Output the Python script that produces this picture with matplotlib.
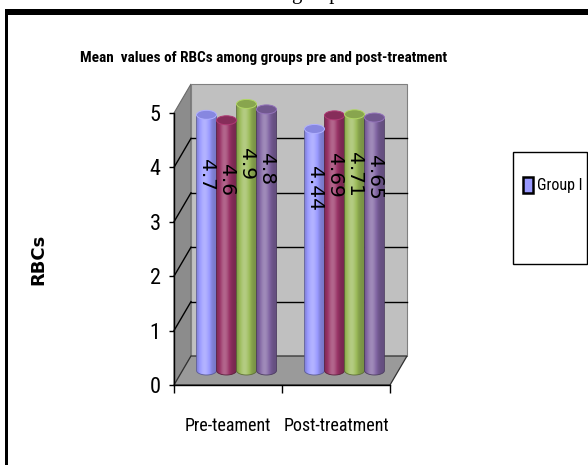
import numpy as np
import matplotlib
matplotlib.use("Agg")
import matplotlib.pyplot as plt
from matplotlib.patches import Polygon, Rectangle, Ellipse, Patch
from matplotlib import font_manager
from matplotlib.colors import to_rgb

# ---- data -------------------------------------------------------------
phases = ["Pre-teament", "Post-treatment"]
groups = ["Group I", "Group II", "Group III", "Group IV"]
group_colors = ["#9999FF", "#993366", "#9BBB59", "#8064A2"]
rbc_pre = [4.7, 4.6, 4.9, 4.8]
rbc_post = [4.44, 4.69, 4.71, 4.65]
y_ticks = [0, 1, 2, 3, 4, 5]
chart_title = "Mean  values of RBCs among groups pre and post-treatment"
y_title = "RBCs"
caption_fragment = "groups"

values = [rbc_pre, rbc_post]


def pick_font(names):
    available = {f.name for f in font_manager.fontManager.ttflist}
    for n in names:
        if n in available:
            return n
    return "DejaVu Sans"


narrow = pick_font(["Liberation Sans Narrow", "Roboto Condensed", "Liberation Sans"])

W, H = 588, 465
fig = plt.figure(figsize=(W / 100, H / 100), dpi=100)

# ---- axes: front plane of the 3-D box ---------------------------------
x0_px, x1_px = 174, 390
y0_px, y5_px = 385, 113
xlim = (-0.2, 2.4)
ylim = (-0.5, 5.7)
ppx = (x1_px - x0_px) / 2.0
ppy = (y0_px - y5_px) / 5.0
left = x0_px + xlim[0] * ppx
right = x0_px + xlim[1] * ppx
bottom = y0_px - ylim[0] * ppy
top = y0_px - ylim[1] * ppy
ax = fig.add_axes([left / W, 1 - bottom / H, (right - left) / W, (bottom - top) / H])
ax.set_xlim(xlim)
ax.set_ylim(ylim)
ax.patch.set_visible(False)

# depth of the box (oblique projection) in data units
ddx = 17 / ppx
ddy = 29 / ppy
ymax = y_ticks[-1]
nx = len(phases)

# side wall, back wall, floor
ax.add_patch(Polygon([(0, 0), (0, ymax), (ddx, ymax + ddy), (ddx, ddy)],
                     closed=True, fc="#8C8C8C", ec="#6A6A6A", lw=0.8, zorder=1))
ax.add_patch(Rectangle((ddx, ddy), nx, ymax, fc="#C0C0C0", ec="#808080",
                       lw=0.8, zorder=1))
ax.add_patch(Polygon([(0, 0), (nx, 0), (nx + ddx, ddy), (ddx, ddy)],
                     closed=True, fc="#9A9A9A", ec="#303030", lw=0.9, zorder=2))

# gridlines on back and side walls
for yv in y_ticks[1:-1]:
    ax.plot([ddx, nx + ddx], [yv + ddy, yv + ddy], color="black", lw=1.0, zorder=2)
    ax.plot([0, ddx], [yv, yv + ddy], color="black", lw=1.0, zorder=2)

# ---- cylinders ----------------------------------------------------------
bw = 20 / ppx           # cylinder diameter
eh = 9 / ppy            # ellipse height of cylinder caps
base = 0.5 * ddy        # cylinders stand at mid depth
shift = 0.5 * ddx


def shade(color, n=64):
    c = np.array(to_rgb(color))
    t = np.linspace(0, 1, n)
    f = 0.78 + 0.5 * np.exp(-((t - 0.38) / 0.28) ** 2)
    out = np.empty((1, n, 3))
    for i, fv in enumerate(f):
        if fv <= 1:
            out[0, i] = c * fv
        else:
            out[0, i] = c + (1 - c) * (fv - 1) * 0.9
    return np.clip(out, 0, 1)


theta = np.linspace(np.pi, 2 * np.pi, 40)
for i, phase_vals in enumerate(values):
    for k, v in enumerate(phase_vals):
        cx = i + 0.5 + (k - 1.5) * bw + shift
        xl, xr = cx - bw / 2, cx + bw / 2
        ytop = base + v
        pts = [(xl, ytop), (xl, base)]
        pts += [(cx + bw / 2 * np.cos(a), base + eh / 2 * np.sin(a)) for a in theta]
        pts += [(xr, ytop)]
        body = Polygon(pts, closed=True, fc="none",
                       ec=np.array(to_rgb(group_colors[k])) * 0.6, lw=0.6, zorder=4)
        ax.add_patch(body)
        im = ax.imshow(shade(group_colors[k]), extent=(xl, xr, base - eh / 2, ytop),
                       aspect="auto", interpolation="bilinear", zorder=3)
        im.set_clip_path(body)
        topc = np.array(to_rgb(group_colors[k]))
        ax.add_patch(Ellipse((cx, ytop), bw, eh, fc=topc * 0.88,
                             ec=np.clip(topc * 1.15, 0, 1), lw=0.7, zorder=5))
        ax.text(cx, ytop - 1.1, f"{v:g}", rotation=-90, ha="center", va="center",
                fontsize=14.5, family="DejaVu Sans", color="black", zorder=6)

# ---- axes lines, ticks, labels -------------------------------------------
for s in ("top", "right"):
    ax.spines[s].set_visible(False)
ax.spines["left"].set_position(("data", 0))
ax.spines["left"].set_bounds(0, ymax)
ax.spines["bottom"].set_position(("data", 0))
ax.spines["bottom"].set_bounds(0, nx)
for s in ("left", "bottom"):
    ax.spines[s].set_linewidth(1.0)
    ax.spines[s].set_zorder(7)

ax.set_yticks(y_ticks)
ax.tick_params(axis="y", length=3.6, width=1, pad=6, labelsize=16, direction="out")
for lbl in ax.get_yticklabels():
    lbl.set_fontfamily(narrow)

ax.set_xticks(range(nx + 1))
ax.set_xticklabels([])
ax.set_xticks([i + 0.5 for i in range(nx)], minor=True)
ax.set_xticklabels(phases, minor=True)
ax.tick_params(axis="x", which="major", length=6, width=1, direction="out")
ax.tick_params(axis="x", which="minor", length=0, pad=23, labelsize=13)
for lbl in ax.get_xticklabels(minor=True):
    lbl.set_fontfamily(narrow)

# ---- titles ----------------------------------------------------------------
fig.text(264 / W, 1 - 62 / H, chart_title, ha="center", va="baseline",
         fontsize=11, fontweight="bold", family=narrow)
fig.text(38 / W, 1 - 259 / H, y_title, rotation=90, ha="center", va="center",
         fontsize=13, fontweight="bold", family="DejaVu Sans")
fig.text(291 / W, 1 + 1.5 / H, caption_fragment, ha="left", va="baseline",
         fontsize=15, family="Liberation Serif")

# ---- legend --------------------------------------------------------------
fig.add_artist(Rectangle((513 / W, 1 - 264 / H), (587 - 513) / W, (264 - 152) / H,
                         transform=fig.transFigure, fill=False, ec="black", lw=1.0))
fig.legend(handles=[Patch(fc=group_colors[0], ec="black", lw=1.8)],
           labels=[groups[0]], loc="center left",
           bbox_to_anchor=(523 / W, 1 - 185 / H), frameon=False,
           handlelength=0.6, handleheight=1.25, handletextpad=0.25,
           borderpad=0, borderaxespad=0, prop={"family": narrow, "size": 11.5})

# ---- page frame -----------------------------------------------------------
fig.add_artist(Rectangle((5 / W, 1 - 15 / H), (W - 5) / W, 6 / H,
                         transform=fig.transFigure, fc="black", ec="none"))
fig.add_artist(Rectangle((5 / W, 0), 3 / W, (H - 9) / H,
                         transform=fig.transFigure, fc="black", ec="none"))

fig.savefig("out.png", dpi=100)
